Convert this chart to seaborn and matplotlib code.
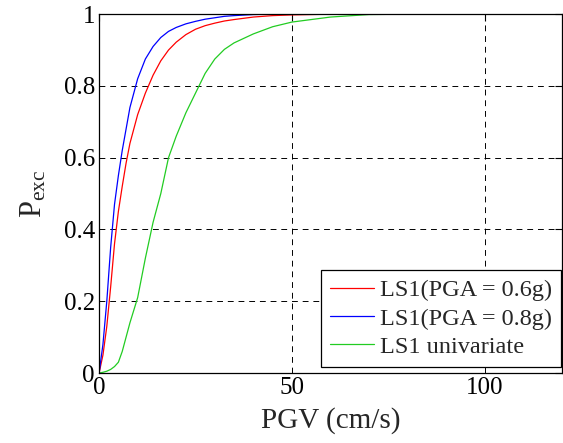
import matplotlib
matplotlib.use("Agg")
import matplotlib.pyplot as plt
import seaborn as sns
import pandas as pd

pgv = [0, 1, 2, 3, 4, 5, 6, 7, 8, 10, 12, 14, 16, 18, 20, 22.5, 25, 27.5, 30, 32.5, 35, 40, 45, 50, 60, 70, 80]
p_06 = [0, 0.05, 0.13, 0.24, 0.36, 0.45, 0.52, 0.585, 0.64, 0.72, 0.78, 0.83, 0.87, 0.90,
        0.922, 0.943, 0.958, 0.968, 0.975, 0.981, 0.985, 0.992, 0.996, 0.998, 1.0, 1.0, 1.0]
p_08 = [0, 0.08, 0.20, 0.35, 0.47, 0.55, 0.62, 0.68, 0.74, 0.82, 0.875, 0.91, 0.935, 0.952,
        0.963, 0.973, 0.98, 0.986, 0.99, 0.994, 0.996, 0.999, 1.0, 1.0, 1.0, 1.0, 1.0]
p_uni = [0, 0.002, 0.005, 0.01, 0.018, 0.03, 0.06, 0.10, 0.14, 0.21, 0.32, 0.42, 0.50, 0.60,
         0.66, 0.725, 0.78, 0.835, 0.875, 0.902, 0.92, 0.945, 0.965, 0.978, 0.992, 0.999, 1.0]
labels = ["LS1(PGA = 0.6g)", "LS1(PGA = 0.8g)", "LS1 univariate"]
colors = ["#ff0000", "#0000ff", "#22cc22"]

rows = []
for lab, ys in zip(labels, [p_06, p_08, p_uni]):
    for x, y in zip(pgv, ys):
        rows.append({"PGV": x, "P": y, "series": lab})
df = pd.DataFrame(rows)

sns.set_style("white")
plt.rcParams["font.family"] = ["Liberation Serif", "DejaVu Serif"]
plt.rcParams["mathtext.fontset"] = "custom"
plt.rcParams["mathtext.rm"] = "Liberation Serif"
plt.rcParams["mathtext.it"] = "Liberation Serif:italic"

fig = plt.figure(figsize=(5.63, 4.43), dpi=100)
ax = fig.add_axes([0.176, 0.158, 0.822, 0.810])

sns.lineplot(data=df, x="PGV", y="P", hue="series", hue_order=labels,
             palette=colors, linewidth=0.9, ax=ax, sort=False, estimator=None)

ax.set_xlim(0, 120)
ax.set_ylim(0, 1)
ax.set_xticks([0, 50, 100])
ax.set_yticks([0, 0.2, 0.4, 0.6, 0.8, 1.0])
ax.set_yticklabels(["0", "0.2", "0.4", "0.6", "0.8", "1"])
ax.grid(True, color="black", linestyle=(0, (6, 5)), linewidth=0.7)
ax.set_axisbelow(True)
ax.tick_params(direction="in", length=5, width=0.8, labelsize=18,
               top=True, right=True, colors="black", pad=3)
for s in ax.spines.values():
    s.set_color("black")
    s.set_linewidth(0.9)

ax.set_xlabel("PGV (cm/s)", fontsize=21, labelpad=6)
ax.set_ylabel(r"$\mathrm{P}_{\mathrm{exc}}$", fontsize=22, labelpad=11)

leg = ax.legend(loc="lower right", bbox_to_anchor=(0.998, 0.017), fontsize=17.5,
                frameon=True, fancybox=False, edgecolor="black", framealpha=1,
                borderpad=0.38, labelspacing=0.25, handlelength=1.8,
                handletextpad=0.25, borderaxespad=0)
leg.get_frame().set_linewidth(0.9)

fig.savefig("out.png", dpi=100)
